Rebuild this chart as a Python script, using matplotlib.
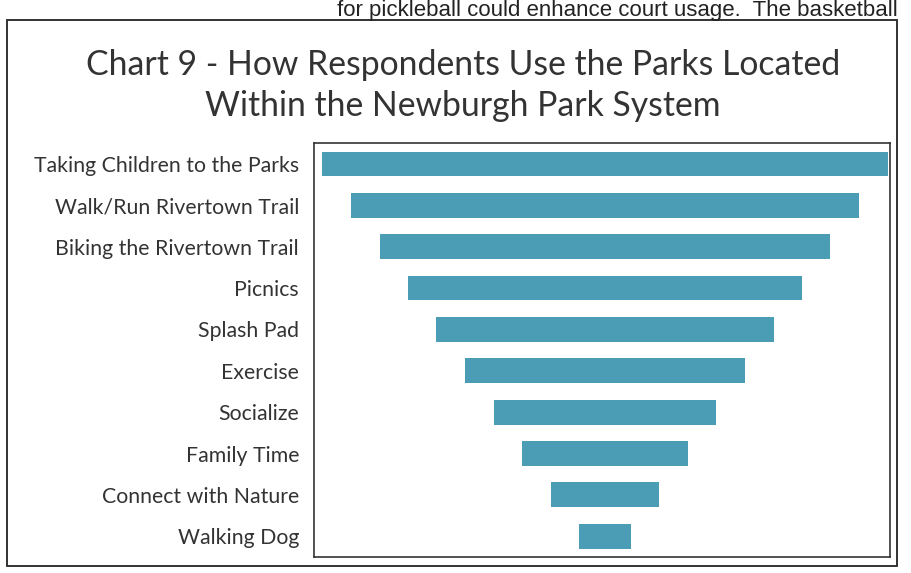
import matplotlib.pyplot as plt
from matplotlib.patches import Rectangle

activities = ['Taking Children to the Parks', 'Walk/Run Rivertown Trail',
              'Biking the Rivertown Trail', 'Picnics', 'Splash Pad', 'Exercise',
              'Socialize', 'Family Time', 'Connect with Nature', 'Walking Dog']
# relative width of each bar (no numbers printed)
scores = [10.0, 8.98, 7.96, 6.97, 5.97, 4.95, 3.94, 2.94, 1.92, 0.92]

bar_color = '#4a9db4'

fig = plt.figure(figsize=(9.11, 5.73), dpi=100)

# outer frame of the chart
fig.patches.append(Rectangle((0.008, 0.012), 0.977, 0.953, transform=fig.transFigure,
                             fill=False, edgecolor='#333333', linewidth=1.4))

# line of body text just above the chart
fig.text(0.985, 1 - 16 / 573, 'for pickleball could enhance court usage.  The basketball',
         ha='right', va='baseline', fontsize=16, family='Liberation Sans', color='#222222')

fig.text(0.508, 1 - 65 / 573, 'Chart 9 - How Respondents Use the Parks Located',
         ha='center', va='center', fontsize=24.3, family='Lato', color='#333333')
fig.text(0.508, 1 - 106 / 573, 'Within the Newburgh Park System',
         ha='center', va='center', fontsize=24.3, family='Lato', color='#333333')

ax = fig.add_axes([0.345, 0.028, 0.632, 0.722])
ypos = list(range(len(activities)))
lefts = [-s / 2 for s in scores]
ax.barh(ypos, scores, left=lefts, height=0.6, color=bar_color)

ax.set_ylim(len(activities) - 0.5, -0.5)
ax.set_xlim(-5.14, 5.04)
ax.set_yticks(ypos)
ax.set_yticklabels(activities, fontsize=15.3, family='Lato', color='#333333')
ax.tick_params(axis='y', length=0, pad=11)
ax.set_xticks([])
for sp in ax.spines.values():
    sp.set_color('#333333')
    sp.set_linewidth(1.2)

fig.savefig('out.png', dpi=100)
